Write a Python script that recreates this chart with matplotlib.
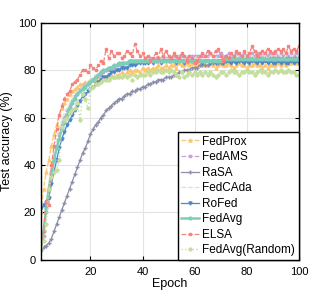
import numpy as np
import matplotlib
matplotlib.use("Agg")
import matplotlib.pyplot as plt

plt.rcParams['font.family'] = ['Liberation Sans', 'DejaVu Sans']

epochs = np.arange(1, 101)

fedprox = [20, 30, 37, 42, 48, 53, 57, 61, 64, 66,
           68, 70, 71, 72, 73, 74, 74, 75, 75, 76,
           76, 76, 77, 77, 77, 77, 78, 78, 77, 78,
           78, 79, 78, 79, 80, 79, 80, 80, 79, 81,
           80, 81, 80, 81, 81, 82, 81, 81, 82, 81,
           82, 82, 81, 83, 82, 82, 83, 82, 83, 82,
           83, 82, 83, 82, 82, 83, 82, 81, 82, 83,
           82, 82, 83, 82, 81, 82, 83, 82, 82, 81,
           82, 82, 83, 82, 82, 81, 82, 81, 82, 82,
           82, 83, 82, 83, 82, 83, 83, 84, 83, 83]

fedams = [5, 10, 20, 30, 37, 43, 48, 53, 57, 60,
          63, 65, 67, 69, 70, 72, 73, 74, 74, 75,
          76, 77, 78, 78, 79, 80, 80, 81, 81, 82,
          82, 82, 83, 83, 83, 83, 84, 84, 84, 84,
          84, 84, 85, 84, 85, 85, 85, 85, 85, 85,
          85, 86, 85, 86, 86, 86, 85, 86, 86, 86,
          86, 86, 86, 86, 86, 87, 86, 86, 86, 87,
          86, 86, 87, 86, 86, 87, 86, 86, 87, 86,
          86, 87, 86, 87, 86, 86, 87, 86, 87, 86,
          87, 86, 87, 86, 87, 86, 87, 86, 87, 86]

rasa = [5, 5.5, 6, 7, 9, 12, 15, 18, 21, 24,
        27, 30, 33, 36, 39, 42, 45, 47, 50, 53,
        55, 57, 58, 60, 61, 63, 64, 65, 66, 67,
        68, 68, 69, 70, 70, 71, 71, 72, 72, 73,
        73, 74, 74, 75, 75, 76, 76, 76, 77, 77,
        77, 78, 78, 79, 79, 80, 80, 80, 81, 81,
        81, 82, 82, 82, 82, 83, 83, 83, 83, 83,
        83, 84, 84, 84, 84, 84, 84, 84, 84, 84,
        84, 85, 84, 85, 85, 84, 85, 85, 85, 85,
        85, 85, 85, 85, 85, 85, 85, 85, 85, 85]

fedcada = [5, 12, 22, 32, 40, 46, 51, 55, 59, 62,
           64, 66, 68, 70, 71, 72, 73, 74, 75, 76,
           77, 78, 78, 79, 80, 80, 81, 81, 82, 82,
           82, 83, 83, 83, 84, 84, 84, 84, 84, 84,
           85, 85, 84, 85, 85, 85, 85, 85, 85, 85,
           85, 85, 85, 86, 85, 85, 86, 85, 86, 85,
           86, 85, 86, 86, 85, 86, 86, 85, 86, 86,
           86, 85, 86, 86, 86, 85, 86, 86, 86, 86,
           86, 86, 85, 86, 86, 86, 86, 85, 86, 86,
           86, 86, 86, 85, 86, 86, 86, 86, 86, 86]

rofed = [22, 23, 24, 26, 32, 37, 42, 47, 51, 54,
         57, 59, 61, 63, 65, 67, 69, 70, 71, 72,
         73, 74, 75, 76, 77, 77, 78, 79, 79, 80,
         80, 81, 81, 81, 82, 82, 82, 83, 83, 83,
         83, 83, 84, 83, 84, 84, 83, 84, 84, 84,
         84, 84, 83, 84, 84, 83, 84, 84, 84, 84,
         84, 84, 83, 84, 84, 83, 84, 83, 84, 84,
         83, 84, 84, 83, 84, 83, 84, 84, 83, 84,
         83, 84, 84, 83, 84, 83, 84, 83, 84, 83,
         83, 84, 83, 84, 83, 83, 84, 83, 84, 83]

fedavg = [4, 12, 22, 30, 36, 42, 47, 51, 55, 58,
          61, 64, 66, 68, 70, 71, 72, 73, 74, 75,
          76, 77, 78, 79, 80, 80, 81, 81, 82, 82,
          83, 83, 83, 83, 84, 84, 84, 84, 84, 84,
          84, 84, 84, 84, 84, 84, 84, 84, 84, 84,
          84, 84, 84, 84, 84, 84, 84, 84, 84, 84,
          84, 84, 84, 84, 84, 84, 84, 84, 84, 84,
          84.5, 84.5, 84.5, 84.5, 84.5, 84.5, 84.5, 84.5, 84.5, 84.5,
          84.5, 84.5, 84.5, 84.5, 84.5, 84.5, 84.5, 84.5, 84.5, 84.5,
          84.5, 84.5, 84.5, 84.5, 84.5, 84.5, 84.5, 84.5, 84.5, 84.5]

elsa = [5, 12, 25, 23, 40, 48, 55, 61, 65, 68,
        70, 71, 74, 75, 76, 78, 80, 80, 79, 82,
        81, 80, 82, 84, 83, 89, 85, 88, 86, 87,
        87, 85, 86, 88, 87, 86, 91, 88, 86, 87,
        85, 86, 84, 85, 87, 85, 89, 86, 88, 86,
        85, 87, 86, 85, 87, 86, 84, 86, 85, 83,
        84, 86, 87, 86, 88, 87, 86, 88, 89, 86,
        84, 86, 85, 87, 86, 88, 87, 86, 88, 86,
        87, 90, 88, 86, 87, 88, 87, 89, 88, 87,
        88, 89, 88, 89, 87, 90, 88, 89, 88, 90]

fedavg_rand = [6, 8, 15, 30, 35, 37, 38, 42, 56, 59,
               60, 62, 63, 64, 66, 59, 70, 68, 64, 72,
               73, 74, 74, 75, 76, 76, 76, 77, 77, 77,
               77, 77, 78, 77, 78, 76, 78, 77, 78, 78,
               78, 79, 78, 79, 79, 80, 79, 79, 80, 79,
               80, 79, 78, 77, 79, 77, 78, 79, 78, 79,
               78, 79, 78, 79, 78, 79, 78, 77, 78, 79,
               79, 78, 79, 80, 79, 79, 78, 79, 79, 80,
               79, 79, 78, 79, 80, 79, 79, 78, 79, 79,
               80, 79, 80, 79, 79, 80, 79, 79, 78, 78]

# nazivi, podaci i stilovi linija
serije = [
    ('FedProx', fedprox, '#FDC66E', '--', '^', 0.9, 2.2),
    ('FedAMS', fedams, '#C9A2D8', '--', '*', 0.9, 2.5),
    ('RaSA', rasa, '#8A8EA8', '-', '+', 0.9, 2.2),
    ('FedCAda', fedcada, '#D8E3CF', '--', '', 0.9, 2.0),
    ('RoFed', rofed, '#4F86C6', '-', 'v', 0.9, 2.2),
    ('FedAvg', fedavg, '#7ECDB8', '-', 'o', 1.8, 2.0),
    ('ELSA', elsa, '#F4837D', '--', 's', 0.9, 2.0),
    ('FedAvg(Random)', fedavg_rand, '#C4DE9C', ':', 'D', 1.0, 1.8),
]

fig = plt.figure(figsize=(3.2, 2.94), dpi=100)
ax = fig.add_axes([0.128, 0.116, 0.806, 0.807])

for ime, y, boja, ls, mk, lw, ms in serije:
    ax.plot(epochs, y, color=boja, linestyle=ls, marker=mk, markersize=ms,
            linewidth=lw, label=ime)

ax.set_xlim(1, 100)
ax.set_ylim(0, 100)
ax.set_xticks([20, 40, 60, 80, 100])
ax.set_yticks([0, 20, 40, 60, 80, 100])
ax.tick_params(direction='in', top=True, right=True, labelsize=8, length=3)
ax.tick_params(axis='x', pad=5)
ax.grid(True, color='#E3E3E3', linewidth=0.8)
ax.set_axisbelow(True)
for s in ax.spines.values():
    s.set_linewidth(1.0)
ax.set_xlabel('Epoch', fontsize=9, labelpad=1)
ax.set_ylabel('Test accuracy (%)', fontsize=9, labelpad=3)

leg = ax.legend(loc='lower right', fontsize=8.5, borderaxespad=0, fancybox=False,
                edgecolor='black', framealpha=1, labelspacing=0.3,
                handlelength=1.5, handletextpad=0.3, borderpad=0.3)
leg.get_frame().set_linewidth(1.0)

fig.savefig('out.png', dpi=100)
